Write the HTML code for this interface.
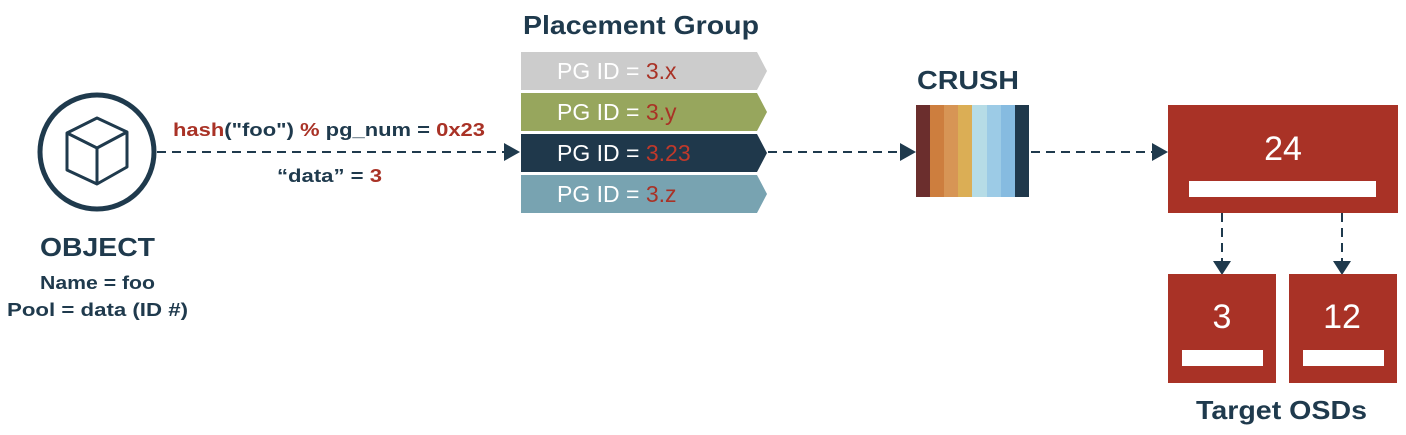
<!DOCTYPE html>
<html><head><style>
body{margin:0;width:1406px;height:430px;background:#fff;overflow:hidden;font-family:"Liberation Sans",sans-serif;}
</style></head><body>
<svg width="1406" height="430" viewBox="0 0 1406 430" xmlns="http://www.w3.org/2000/svg" font-family="Liberation Sans, sans-serif">
<!-- object -->
<circle cx="97" cy="152" r="57" fill="none" stroke="#1f3a4d" stroke-width="5"/>
<g fill="none" stroke="#1f3a4d" stroke-width="3" stroke-linejoin="round">
<polygon points="97,118 127,132 127,167 97,184 67,170 67,133"/>
<polyline points="67,133 97,148 127,132"/>
<line x1="97" y1="148" x2="97" y2="184"/>
</g>
<text x="40" y="256" textLength="115" lengthAdjust="spacingAndGlyphs" font-size="26" font-weight="bold" fill="#1f3a4d">OBJECT</text>
<text x="40" y="289" textLength="115" lengthAdjust="spacingAndGlyphs" font-size="18" font-weight="bold" fill="#1f3a4d">Name = foo</text>
<text x="7" y="316" textLength="181" lengthAdjust="spacingAndGlyphs" font-size="18" font-weight="bold" fill="#1f3a4d">Pool = data (ID #)</text>
<text x="173" y="136" textLength="312" lengthAdjust="spacingAndGlyphs" font-size="18" font-weight="bold" fill="#1f3a4d"><tspan fill="#a93226">hash</tspan>("foo") <tspan fill="#a93226">%</tspan> pg_num = <tspan fill="#a93226">0x23</tspan></text>
<text x="277" y="182" textLength="105" lengthAdjust="spacingAndGlyphs" font-size="18" font-weight="bold" fill="#1f3a4d">“data” = <tspan fill="#a93226">3</tspan></text>
<!-- dashed connectors -->
<g stroke="#1f3a4d" stroke-width="2" stroke-dasharray="9,6">
<line x1="157" y1="152" x2="504" y2="152"/>
<line x1="768" y1="152" x2="900" y2="152"/>
<line x1="1031" y1="152" x2="1152" y2="152"/>
<line x1="1222" y1="213" x2="1222" y2="262"/>
<line x1="1342" y1="213" x2="1342" y2="262"/>
</g>
<g fill="#1f3a4d">
<polygon points="504,143 520,152 504,161"/>
<polygon points="900,143 916,152 900,161"/>
<polygon points="1152,143 1168,152 1152,161"/>
<polygon points="1213,261 1231,261 1222,275"/>
<polygon points="1333,261 1351,261 1342,275"/>
</g>
<!-- placement group -->
<text x="523" y="34" textLength="236" lengthAdjust="spacingAndGlyphs" font-size="26" font-weight="bold" fill="#1f3a4d">Placement Group</text>
<g font-size="23" fill="#fff">
<polygon points="521,52 757,52 767,71 757,90 521,90" fill="#cccccc"/>
<text x="557" y="79">PG ID = <tspan fill="#a93226">3.x</tspan></text>
<polygon points="521,93 757,93 767,112 757,131 521,131" fill="#97a65d"/>
<text x="557" y="120">PG ID = <tspan fill="#a93226">3.y</tspan></text>
<polygon points="521,134 757,134 767,153 757,172 521,172" fill="#1f384b"/>
<text x="557" y="161">PG ID = <tspan fill="#c0392b">3.23</tspan></text>
<polygon points="521,175 757,175 767,194 757,213 521,213" fill="#78a3b1"/>
<text x="557" y="202">PG ID = <tspan fill="#a93226">3.z</tspan></text>
</g>
<!-- crush -->
<text x="917" y="89" textLength="102" lengthAdjust="spacingAndGlyphs" font-size="26" font-weight="bold" fill="#1f3a4d">CRUSH</text>
<rect x="916" y="105" width="14" height="92" fill="#6b2e2d"/>
<rect x="930" y="105" width="14" height="92" fill="#cd7e3e"/>
<rect x="944" y="105" width="14" height="92" fill="#d79555"/>
<rect x="958" y="105" width="14" height="92" fill="#dbae55"/>
<rect x="972" y="105" width="15" height="92" fill="#b6dce6"/>
<rect x="987" y="105" width="14" height="92" fill="#9ccbe6"/>
<rect x="1001" y="105" width="14" height="92" fill="#86bbe0"/>
<rect x="1015" y="105" width="14" height="92" fill="#1f384b"/>
<!-- OSDs -->
<rect x="1168" y="105" width="230" height="108" fill="#a93226"/>
<rect x="1189" y="181" width="187" height="16" fill="#fff"/>
<text x="1283" y="160" text-anchor="middle" font-size="34" fill="#fff">24</text>
<rect x="1168" y="274" width="108" height="109" fill="#a93226"/>
<rect x="1182" y="350" width="81" height="16" fill="#fff"/>
<text x="1222" y="328" text-anchor="middle" font-size="34" fill="#fff">3</text>
<rect x="1289" y="274" width="108" height="109" fill="#a93226"/>
<rect x="1303" y="350" width="81" height="16" fill="#fff"/>
<text x="1342" y="328" text-anchor="middle" font-size="34" fill="#fff">12</text>
<text x="1196" y="419" textLength="171" lengthAdjust="spacingAndGlyphs" font-size="26" font-weight="bold" fill="#1f3a4d">Target OSDs</text>
</svg>
</body></html>
